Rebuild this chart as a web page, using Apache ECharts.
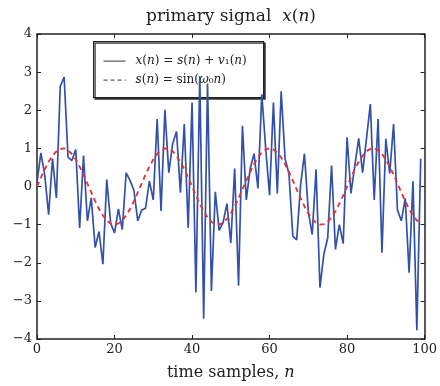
<!DOCTYPE html>
<html>
<head>
<meta charset="utf-8">
<script src="https://cdn.jsdelivr.net/npm/echarts@6/dist/echarts.min.js"></script>
<style>
  html, body { margin: 0; padding: 0; background: #fff; }
  #chart { width: 440px; height: 386px; }
</style>
</head>
<body>
<div id="chart"></div>
<script>
// sample index n = 0..99
const samples = Array.from({ length: 100 }, (_, i) => i)

// noisy signal x(n)
const noisyValues = [
  0.1, 0.88, 0.3, -0.74, 0.73, -0.3, 2.63, 2.87, 0.77, 0.68,
  0.97, -1.09, 0.81, -0.9, -0.3, -1.6, -1.18, -2.04, 0.18, -0.96,
  -1.22, -0.59, -1.13, 0.36, 0.16, -0.1, -0.9, -0.62, -0.57, 0.14,
  -0.35, 1.77, -0.64, 2.01, 0.36, 1.12, 1.44, -0.16, 1.64, -1.09,
  2.2, -2.78, 2.9, -3.47, 2.7, -2.74, -0.14, -1.15, -0.95, -0.45,
  -1.48, 0.47, -2.6, 1.59, -0.35, 0.47, 0.86, -0.05, 2.42, 1.0,
  -0.23, 2.2, -0.18, 2.5, 0.73, 0.34, -1.3, -1.4, 0.03, 0.86,
  -0.66, -1.26, 0.45, -2.65, -1.78, -1.35, 0.55, -1.65, -1.0, -1.5,
  1.29, -0.18, 0.55, 1.26, 0.36, 1.25, 2.16, -0.35, 1.77, -1.74,
  1.25, 0.34, 1.64, -0.62, -0.9, -0.31, -2.26, 0.14, -3.77, 0.73
]

// clean sinusoid s(n)
const sineValues = [
  0, 0.233, 0.454, 0.649, 0.809, 0.924, 0.988, 0.997, 0.951, 0.853,
  0.707, 0.522, 0.309, 0.078, -0.156, -0.383, -0.588, -0.76, -0.891, -0.972,
  -1, -0.972, -0.891, -0.76, -0.588, -0.383, -0.156, 0.078, 0.309, 0.522,
  0.707, 0.853, 0.951, 0.997, 0.988, 0.924, 0.809, 0.649, 0.454, 0.233,
  0, -0.233, -0.454, -0.649, -0.809, -0.924, -0.988, -0.997, -0.951, -0.853,
  -0.707, -0.522, -0.309, -0.078, 0.156, 0.383, 0.588, 0.76, 0.891, 0.972,
  1, 0.972, 0.891, 0.76, 0.588, 0.383, 0.156, -0.078, -0.309, -0.522,
  -0.707, -0.853, -0.951, -0.997, -0.988, -0.924, -0.809, -0.649, -0.454, -0.233,
  0, 0.233, 0.454, 0.649, 0.809, 0.924, 0.988, 0.997, 0.951, 0.853,
  0.707, 0.522, 0.309, 0.078, -0.156, -0.383, -0.588, -0.76, -0.891, -0.972
]

const xTicks = [0, 20, 40, 60, 80, 100]
const yTicks = [-4, -3, -2, -1, 0, 1, 2, 3, 4]

const legendLabels = [
  '{i|x}({i|n}) = {i|s}({i|n}) + {i|v}₁({i|n})',
  '{i|s}({i|n}) = sin({i|ω}₀{i|n})'
]

const serif = 'DejaVu Serif'
const ink = '#222'
const blue = '#3351a8'
const red = '#e8323a'
const italicRich = (size) => ({ i: { fontFamily: serif, fontStyle: 'italic', fontSize: size, color: ink } })

const chart = echarts.init(document.getElementById('chart'))

// axes drawn as a closed box with inward ticks on every side
const boxAxis = (extra) => Object.assign({
  axisLine: { show: true, onZero: false, lineStyle: { color: ink, width: 1.5 } },
  axisTick: { show: true, inside: true, length: 4, lineStyle: { color: ink, width: 1 } },
  splitLine: { show: false }
}, extra)

// legend box, built by hand so the samples stay dark like the original
const legendBox = {
  type: 'group',
  left: 93,
  top: 41,
  z: 100,
  children: [
    {
      type: 'rect',
      shape: { x: 0, y: 0, width: 170, height: 56 },
      style: {
        fill: '#fff', stroke: ink, lineWidth: 1.2,
        shadowColor: '#333', shadowOffsetX: 1.5, shadowOffsetY: 1.5, shadowBlur: 0
      }
    },
    {
      type: 'line',
      shape: { x1: 10, y1: 19.5, x2: 32, y2: 19.5 },
      style: { stroke: '#333', lineWidth: 1 }
    },
    {
      type: 'line',
      shape: { x1: 10, y1: 38.5, x2: 32, y2: 38.5 },
      style: { stroke: '#333', lineWidth: 1, lineDash: [4, 3] }
    },
    {
      type: 'text',
      x: 42, y: 19.5,
      style: {
        text: legendLabels[0], fontFamily: serif, fontSize: 12, fill: ink,
        verticalAlign: 'middle', rich: italicRich(12)
      }
    },
    {
      type: 'text',
      x: 42, y: 38.5,
      style: {
        text: legendLabels[1], fontFamily: serif, fontSize: 12, fill: ink,
        verticalAlign: 'middle', rich: italicRich(12)
      }
    }
  ]
}

chart.setOption({
  animation: false,
  title: {
    text: 'primary signal  {i|x}({i|n})',
    left: 226,
    textAlign: 'center',
    top: 3,
    textStyle: {
      fontFamily: serif, fontSize: 17, fontWeight: 'normal', color: ink,
      rich: italicRich(17)
    }
  },
  graphic: [legendBox],
  grid: { left: 37, right: 15, top: 34, bottom: 44 },
  xAxis: [
    boxAxis({
      type: 'value', min: xTicks[0], max: xTicks[xTicks.length - 1], interval: 20,
      position: 'bottom',
      axisLabel: { fontFamily: serif, fontSize: 13, color: ink, margin: 4 },
      name: 'time samples, {i|n}',
      nameLocation: 'middle',
      nameGap: 26,
      nameTextStyle: { fontFamily: serif, fontSize: 16, color: ink, rich: italicRich(16) }
    }),
    boxAxis({
      type: 'value', min: xTicks[0], max: xTicks[xTicks.length - 1], interval: 20,
      position: 'top', axisLabel: { show: false }
    })
  ],
  yAxis: [
    boxAxis({
      type: 'value', min: yTicks[0], max: yTicks[yTicks.length - 1], interval: 1,
      position: 'left',
      axisLabel: {
        fontFamily: serif, fontSize: 13, color: ink, margin: 5,
        formatter: (v) => String(v).replace('-', '\u2212')
      }
    }),
    boxAxis({
      type: 'value', min: yTicks[0], max: yTicks[yTicks.length - 1], interval: 1,
      position: 'right', axisLabel: { show: false }
    })
  ],
  series: [
    {
      name: 'x',
      type: 'line',
      symbol: 'none',
      data: samples.map((n, i) => [n, noisyValues[i]]),
      lineStyle: { color: blue, width: 1.7 },
      z: 2
    },
    {
      name: 's',
      type: 'line',
      symbol: 'none',
      data: samples.map((n, i) => [n, sineValues[i]]),
      lineStyle: { color: red, width: 1.9, type: [5, 4] },
      z: 3
    }
  ]
})
</script>
</body>
</html>
